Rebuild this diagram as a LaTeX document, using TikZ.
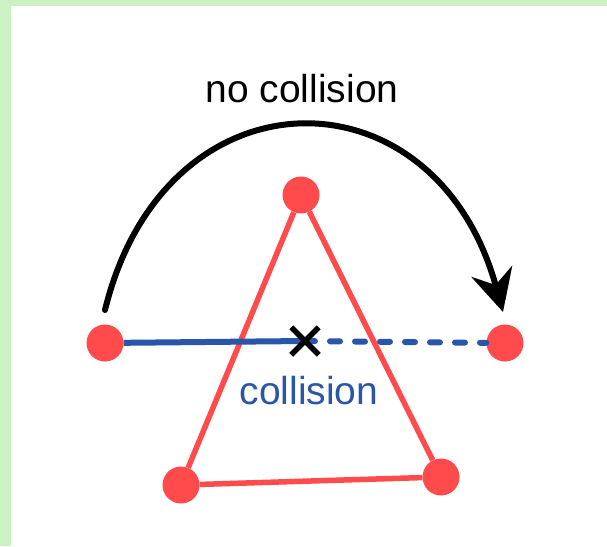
\documentclass[tikz,border=0pt]{standalone}
\usepackage{fontspec}
\setmainfont{Liberation Sans}
\usetikzlibrary{arrows.meta}
\usetikzlibrary{shapes.misc}

\definecolor{dotred}{RGB}{255,75,75}
\definecolor{pathblue}{RGB}{42,86,170}
\definecolor{framegreen}{RGB}{204,242,196}

\begin{document}
\begin{tikzpicture}[
    x=1pt, y=-1pt,
    vertex/.style={
        circle,
        fill=dotred,
        inner sep=0pt,
        minimum size=37pt
    },
    side/.style={draw=dotred, line width=5.5pt},
    motion/.style={draw=pathblue, line width=6pt},
    crossmark/.style={
        cross out,
        draw=black,
        line width=5.5pt,
        inner sep=0pt,
        minimum size=22pt
    },
    notetext/.style={
        inner sep=0pt,
        anchor=base,
        font=\fontsize{39pt}{44pt}\selectfont
    }
]

\useasboundingbox (0,0) rectangle (607,546);

%---------------------------------
% Frame
%---------------------------------
\fill[framegreen] (0,0) rectangle (607,546);
\fill[white] (11,6) rectangle (607,546);

%---------------------------------
% Nodes
%---------------------------------

% Obstacle corners
\node[vertex] (top)   at (301,195) {};
\node[vertex] (left)  at (181,485) {};
\node[vertex] (right) at (441,477) {};

% Start and goal
\node[vertex] (start) at (105,343) {};
\node[vertex] (goal)  at (505,343) {};

% Hit point and arc ends
\coordinate (hit)      at (305,341);
\coordinate (arcstart) at (105,310);
\coordinate (arctip)   at (503,312);

% Labels
\node[notetext] (nocoll) at (302,102) {no collision};
\node[notetext, text=pathblue] (coll) at (309,404) {collision};

%---------------------------------
% Obstacle
%---------------------------------
\draw[side] (top) -- (left);
\draw[side] (left) -- (right);
\draw[side] (right) -- (top);

%---------------------------------
% Straight motion
%---------------------------------
\draw[motion] (start) -- (hit);
\draw[motion, dash pattern=on 10pt off 15pt, line cap=round] (hit) -- (goal);
\node[crossmark] (xmark) at (hit) {};

%---------------------------------
% Motion around
%---------------------------------
\draw[line width=6pt, line cap=round,
      -{Stealth[length=42pt, width=42pt, inset=14pt]}]
    (arcstart) .. controls (165,65) and (435,65) .. (arctip);

\end{tikzpicture}
\end{document}
